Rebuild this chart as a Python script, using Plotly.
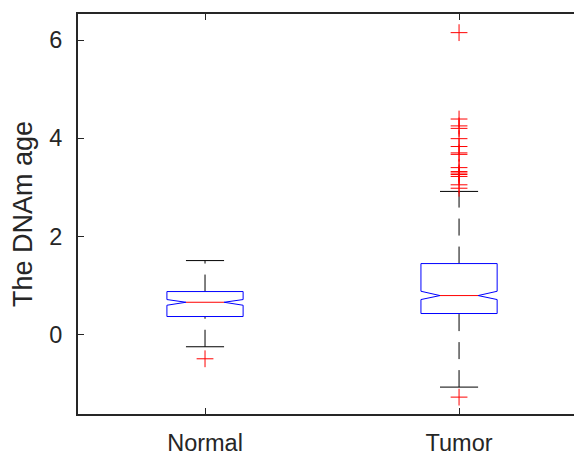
import plotly.graph_objects as go

# ---- data ----
categories = ["Normal", "Tumor"]
positions = [1, 2]
q1 = [0.366, 0.427]
medians = [0.657, 0.793]
q3 = [0.875, 1.445]
notch_low = [0.596, 0.712]
notch_high = [0.712, 0.881]
whisker_low = [-0.25, -1.072]
whisker_high = [1.506, 2.915]
outliers_normal = [-0.495]
outliers_tumor = [6.15, 4.39, 4.25, 4.20, 3.99, 3.83, 3.70, 3.67, 3.40, 3.32,
                  3.29, 3.26, 3.22, 3.05, 2.98, -1.276]
outliers = [outliers_normal, outliers_tumor]
y_ticks = [0, 2, 4, 6]

# ---- style ----
BOX_HALF = 0.15
NOTCH_HALF = 0.075
CAP_HALF = 0.075
AX = "#262626"
FONT = "Liberation Sans, Arial, Helvetica, sans-serif"
PAGE_OFFSET = 8  # default body margin of the page

fig = go.Figure()

for i, x in enumerate(positions):
    # whiskers (dashed), drawn bottom to top
    fig.add_trace(go.Scatter(x=[x, x], y=[whisker_low[i], q1[i]], mode="lines",
                             line=dict(color="black", width=1, dash="17px,11px"),
                             hoverinfo="skip", showlegend=False))
    fig.add_trace(go.Scatter(x=[x, x], y=[q3[i], whisker_high[i]], mode="lines",
                             line=dict(color="black", width=1, dash="17px,11px"),
                             hoverinfo="skip", showlegend=False))
    # caps
    for v in (whisker_low[i], whisker_high[i]):
        fig.add_trace(go.Scatter(x=[x - CAP_HALF, x + CAP_HALF], y=[v, v], mode="lines",
                                 line=dict(color="black", width=1),
                                 hoverinfo="skip", showlegend=False))
    # notched box
    bx = [x - BOX_HALF, x - BOX_HALF, x - NOTCH_HALF, x - BOX_HALF, x - BOX_HALF,
          x + BOX_HALF, x + BOX_HALF, x + NOTCH_HALF, x + BOX_HALF, x + BOX_HALF,
          x - BOX_HALF]
    by = [q1[i], notch_low[i], medians[i], notch_high[i], q3[i],
          q3[i], notch_high[i], medians[i], notch_low[i], q1[i], q1[i]]
    fig.add_trace(go.Scatter(x=bx, y=by, mode="lines",
                             line=dict(color="#0000FF", width=1),
                             hoverinfo="skip", showlegend=False))
    # median
    fig.add_trace(go.Scatter(x=[x - NOTCH_HALF, x + NOTCH_HALF], y=[medians[i], medians[i]],
                             mode="lines", line=dict(color="#FF0000", width=1),
                             hoverinfo="skip", showlegend=False))
    # outliers
    fig.add_trace(go.Scatter(x=[x] * len(outliers[i]), y=outliers[i], mode="markers",
                             marker=dict(symbol="cross-thin", size=12,
                                         line=dict(color="#FF0000", width=1)),
                             hoverinfo="skip", showlegend=False))

# invisible trace on the mirrored right y axis
fig.add_trace(go.Scatter(x=[1], y=[0], yaxis="y2", mode="markers",
                         marker=dict(opacity=0), hoverinfo="skip", showlegend=False))

fig.update_layout(
    width=582 - PAGE_OFFSET, height=455 - PAGE_OFFSET,
    margin=dict(l=78 - PAGE_OFFSET, r=0, t=14 - PAGE_OFFSET, b=41),
    paper_bgcolor="white", plot_bgcolor="white",
    font=dict(family=FONT, color=AX, size=23.5),
    xaxis=dict(range=[0.5, 2.484], tickvals=positions, ticktext=categories,
               ticks="inside", ticklen=6, tickwidth=1, tickcolor=AX,
               showline=True, linecolor=AX, linewidth=2, mirror="ticks",
               showgrid=False, zeroline=False, ticklabelstandoff=7,
               tickfont=dict(size=23.5, color=AX, family=FONT), automargin=False),
    yaxis=dict(range=[-1.62, 6.53], tickvals=y_ticks,
               ticks="inside", ticklen=6, tickwidth=1, tickcolor=AX,
               showline=True, linecolor=AX, linewidth=2,
               showgrid=False, zeroline=False, ticklabelstandoff=9,
               tickfont=dict(size=23.5, color=AX, family=FONT), automargin=False,
               title=dict(text="The DNAm age", standoff=12,
                          font=dict(size=27, color=AX, family=FONT))),
    yaxis2=dict(range=[-1.62, 6.53], tickvals=y_ticks, overlaying="y", side="right",
                ticks="inside", ticklen=6, tickwidth=1, tickcolor=AX,
                showline=False, showticklabels=False, showgrid=False, zeroline=False,
                automargin=False),
)

fig.write_html("out.html")
